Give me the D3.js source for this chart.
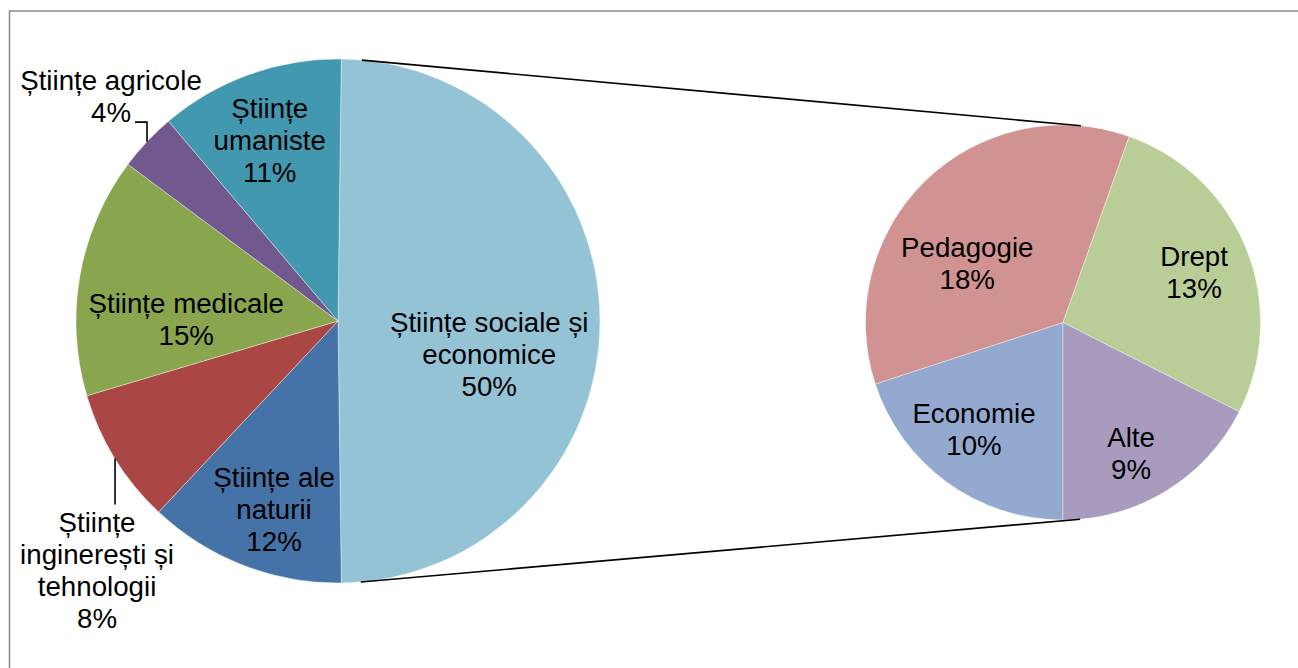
<!DOCTYPE html>
<html><head><meta charset="utf-8">
<script src="https://cdn.jsdelivr.net/npm/d3@7"></script>
<style>html,body{margin:0;padding:0;background:#fff;} svg{display:block;}</style>
</head><body>
<svg id="chart" width="1298" height="668"></svg>
<script>
// ---- data ----
const otherCategory = "Științe sociale și economice";
const mainCategories = ["Științe ale naturii", "Științe inginerești și tehnologii", "Științe medicale", "Științe agricole", "Științe umaniste"];
const mainValues = [12.2, 8.4, 14.8, 3.6, 11.4];
const subCategories = ["Economie", "Pedagogie", "Drept", "Alte"];
const subValues = [9.9, 17.6, 13.4, 8.7];

// ---- style ----
const otherColor = "#93C3D5";
const mainColors = ["#4572A7", "#AA4643", "#89A54E", "#71588F", "#4198AF"];
const subColors = ["#93A9CF", "#D19392", "#B9CD96", "#A99BBD"];
const labelLines = {
  "Științe sociale și economice": ["Științe sociale și", "economice"],
  "Științe ale naturii": ["Științe ale", "naturii"],
  "Științe inginerești și tehnologii": ["Științe", "inginerești și", "tehnologii"],
  "Științe medicale": ["Științe medicale"],
  "Științe agricole": ["Științe agricole"],
  "Științe umaniste": ["Științe", "umaniste"]
};
const insideNudge = {
  "Științe sociale și economice": [-6, 33],
  "Științe ale naturii": [-7, 42],
  "Științe medicale": [3, 26],
  "Științe umaniste": [-15, -33],
  "Economie": [-19.5, 11],
  "Pedagogie": [-13, 25],
  "Drept": [21, -6.5],
  "Alte": [6, 30]
};
const outsideLabels = {
  "Științe agricole": { leader: [[0, -19.5], [-12, -19.5]], offset: [-36, -46] },
  "Științe inginerești și tehnologii": { leader: [[0, 46]], offset: [-18, 111] }
};
const fontSize = 27.7, lineH = 32, font = "'Liberation Sans', Arial, sans-serif";

// ---- layout ----
const mainC = [338, 321], mainR = 262;
const subC = [1063, 322.5], subR = 197.5;

const svg = d3.select("#chart");
svg.append("rect").attr("x", 9.5).attr("y", 11).attr("width", 1400).attr("height", 1000)
  .attr("fill", "#fff").attr("stroke", "#8a8a8a").attr("stroke-width", 1.5);

const otherValue = d3.sum(subValues);
const total = otherValue + d3.sum(mainValues);
const mainData = [{ name: otherCategory, value: otherValue, color: otherColor }]
  .concat(mainCategories.map((n, i) => ({ name: n, value: mainValues[i], color: mainColors[i] })));
const subData = subCategories.map((n, i) => ({ name: n, value: subValues[i], color: subColors[i] }));

const otherSpan = otherValue / total * 2 * Math.PI;
const a0 = Math.PI / 2 - otherSpan / 2;
const mainArcs = d3.pie().sort(null).value(d => d.value).startAngle(a0).endAngle(a0 + 2 * Math.PI)(mainData);
const subArcs = d3.pie().sort(null).value(d => d.value).startAngle(Math.PI).endAngle(3 * Math.PI)(subData);

function drawPie(arcs, c, R) {
  const g = svg.append("g").attr("transform", `translate(${c[0]},${c[1]})`);
  g.selectAll("path").data(arcs).join("path")
    .attr("d", d3.arc().innerRadius(0).outerRadius(R))
    .attr("fill", d => d.data.color)
    .attr("stroke", "#fff").attr("stroke-opacity", 0.5).attr("stroke-width", 0.75);
}
drawPie(mainArcs, mainC, mainR);
drawPie(subArcs, subC, subR);

// connector lines: external common tangents
(function () {
  const dx = subC[0] - mainC[0], dy = subC[1] - mainC[1];
  const D = Math.hypot(dx, dy), phi = Math.atan2(dy, dx);
  const th = Math.acos((subR - mainR) / D);
  [phi + th, phi - th].forEach(a => {
    const nx = Math.cos(a), ny = Math.sin(a);
    svg.append("line")
      .attr("x1", mainC[0] - mainR * nx).attr("y1", mainC[1] - mainR * ny)
      .attr("x2", subC[0] - subR * nx).attr("y2", subC[1] - subR * ny)
      .attr("stroke", "#000").attr("stroke-width", 1.6);
  });
})();

function drawLabel(cx, cy, lines) {
  const n = lines.length, capH = 0.716 * fontSize;
  const t = svg.append("text").attr("font-family", font).attr("font-size", fontSize)
    .attr("fill", "#000").attr("text-anchor", "middle");
  lines.forEach((l, i) => {
    t.append("tspan").attr("x", cx).attr("y", cy + (i - (n - 1) / 2) * lineH + capH / 2).text(l);
  });
}
function pct(v) { return Math.round(v / total * 100) + "%"; }

function labelPie(arcs, c, R) {
  const lblArc = d3.arc().innerRadius(0.6 * R).outerRadius(0.6 * R);
  arcs.forEach(d => {
    const name = d.data.name;
    const lines = (labelLines[name] || [name]).concat([pct(d.data.value)]);
    if (outsideLabels[name]) {
      const o = outsideLabels[name];
      const mid = (d.startAngle + d.endAngle) / 2;
      const px = c[0] + R * Math.sin(mid), py = c[1] - R * Math.cos(mid);
      const pts = [[px, py]].concat(o.leader.map(p => [px + p[0], py + p[1]]));
      svg.append("path").attr("d", d3.line()(pts)).attr("fill", "none")
        .attr("stroke", "#000").attr("stroke-width", 1.6);
      drawLabel(px + o.offset[0], py + o.offset[1], lines);
    } else {
      const [x, y] = lblArc.centroid(d);
      const nud = insideNudge[name] || [0, 0];
      drawLabel(c[0] + x + nud[0], c[1] + y + nud[1], lines);
    }
  });
}
labelPie(mainArcs, mainC, mainR);
labelPie(subArcs, subC, subR);
</script>
</body></html>
